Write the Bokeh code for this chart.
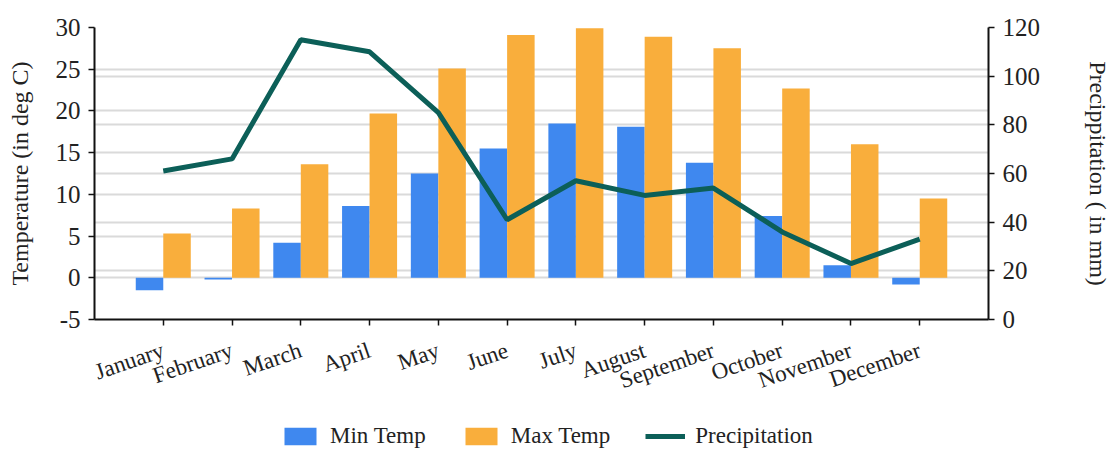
from bokeh.plotting import figure
from bokeh.layouts import column
from bokeh.models import (Range1d, LinearAxis, FixedTicker, Grid, Legend, LegendItem,
                          SingleIntervalTicker, ColumnDataSource)
from bokeh.embed import file_html
from bokeh.resources import INLINE
import numpy as np

months = ["January", "February", "March", "April", "May", "June", "July",
          "August", "September", "October", "November", "December"]
min_temp = [-1.5, -0.2, 4.2, 8.6, 12.5, 15.5, 18.5, 18.1, 13.8, 7.4, 1.5, -0.8]
max_temp = [5.3, 8.3, 13.6, 19.7, 25.1, 29.1, 29.9, 28.9, 27.5, 22.7, 16.0, 9.5]
precip = [61, 66, 115, 110, 85, 41, 57, 51, 54, 36, 23, 33]
series_names = ["Min Temp", "Max Temp", "Precipitation"]

FONT = "Liberation Serif"
TXT = "#222222"
BLUE = "#3f88ef"
ORANGE = "#f9ae3c"
TEAL = "#0c5f58"
W = 1102

idx = np.arange(1, len(months) + 1)
src = ColumnDataSource(dict(x=idx, xmin=idx - 0.2, xmax=idx + 0.2,
                            min_temp=min_temp, max_temp=max_temp, precip=precip))

p = figure(width=W, height=415, output_backend="svg", toolbar_location=None,
           x_range=Range1d(0, 13), y_range=Range1d(-5, 30),
           min_border_left=94, min_border_right=114, min_border_top=27,
           min_border_bottom=96, frame_width=894, frame_height=292)
p.outline_line_color = None
p.extra_y_ranges = {"precip": Range1d(0, 120)}

# grids
p.xgrid.visible = False
p.ygrid.ticker = SingleIntervalTicker(interval=5)
p.ygrid.grid_line_color = "#dadada"
p.ygrid.grid_line_width = 2
g2 = Grid(dimension=1, ticker=SingleIntervalTicker(interval=20), y_range_name="precip",
          grid_line_color="#dadada", grid_line_width=2)
p.add_layout(g2)

p.vbar(x="xmin", width=0.4, bottom=0, top="min_temp", source=src,
       fill_color=BLUE, line_color=None)
p.vbar(x="xmax", width=0.4, bottom=0, top="max_temp", source=src,
       fill_color=ORANGE, line_color=None)
p.line(x="x", y="precip", source=src, y_range_name="precip",
       line_color=TEAL, line_width=5)

# axes
xa = p.xaxis[0]
xa.ticker = FixedTicker(ticks=list(idx))
xa.major_label_overrides = {int(i): m for i, m in zip(idx, months)}
xa.major_label_orientation = 0.33
xa.minor_tick_line_color = None

ya = p.yaxis[0]
ya.ticker = SingleIntervalTicker(interval=5)
ya.axis_label = "Temperature (in deg C)"
ya.minor_tick_line_color = None
ya.major_label_overrides = {-5: "-5"}

ra = LinearAxis(y_range_name="precip", ticker=SingleIntervalTicker(interval=20),
                axis_label="Precippitation ( in mm)")
ra.minor_tick_line_color = None
p.add_layout(ra, "right")

for ax in (xa, ya, ra):
    ax.axis_line_color = "#111111"
    ax.axis_line_width = 2
    ax.major_tick_line_color = "#111111"
    ax.major_tick_line_width = 1.5
    ax.major_tick_in = 0
    ax.major_tick_out = 6
    ax.major_label_text_font = FONT
    ax.major_label_text_color = TXT
    ax.axis_label_text_font = FONT
    ax.axis_label_text_color = TXT
    ax.axis_label_text_font_style = "normal"

xa.major_label_text_font_size = "23px"
xa.major_label_standoff = 24
ya.major_label_text_font_size = "25px"
ra.major_label_text_font_size = "25px"
ya.major_label_standoff = 8
ra.major_label_standoff = 8
ya.axis_label_text_font_size = "24px"
ra.axis_label_text_font_size = "24px"
ya.axis_label_standoff = 20
ra.axis_label_standoff = 42

# legend strip (separate figure below the chart); proxy renderers hold no drawable points
lg = figure(width=W, height=36, output_backend="svg", toolbar_location=None,
            x_range=Range1d(0, 1), y_range=Range1d(0, 1), min_border=0,
            x_axis_type=None, y_axis_type=None)
lg.outline_line_color = None
lg.xgrid.visible = False
lg.ygrid.visible = False
nan = float("nan")
proxy = ColumnDataSource(dict(x=[nan], y=[nan], top=[nan], bottom=[nan]))
r1 = lg.vbar(x="x", top="top", bottom="bottom", width=0.1, source=proxy,
             fill_color=BLUE, line_color=None)
r2 = lg.vbar(x="x", top="top", bottom="bottom", width=0.1, source=proxy,
             fill_color=ORANGE, line_color=None)
r3 = lg.line(x="x", y="y", source=proxy, line_color=TEAL, line_width=5)

legend = Legend(items=[LegendItem(label=series_names[0], renderers=[r1]),
                       LegendItem(label=series_names[1], renderers=[r2]),
                       LegendItem(label=series_names[2], renderers=[r3])],
                orientation="horizontal", location=(186, 2),
                border_line_color=None, background_fill_alpha=0,
                padding=0, margin=0, spacing=35, glyph_width=40, glyph_height=22,
                label_standoff=10, label_text_font=FONT, label_text_font_size="23px",
                label_text_color=TXT, label_height=22)
lg.add_layout(legend)

layout = column(p, lg, spacing=0)
open("out.html", "w").write(file_html(layout, INLINE))
